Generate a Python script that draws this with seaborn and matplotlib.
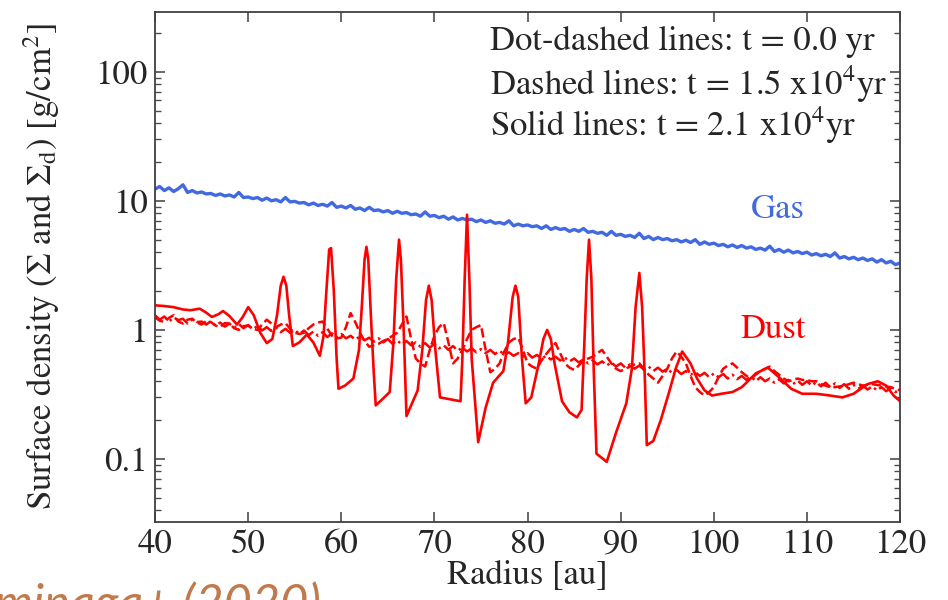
import numpy as np
import pandas as pd
import seaborn as sns
import matplotlib
matplotlib.use("Agg")
import matplotlib.pyplot as plt
from matplotlib.ticker import LogLocator, NullFormatter

# gas surface density, every 0.5 au from 40 to 120
gas_r = np.arange(40, 120.25, 0.5)
gas_sigma = [
    12.3, 12.9, 12.0, 12.6, 11.8, 12.4, 13.3, 11.6, 12.0, 11.5,
    11.7, 11.3, 11.4, 11.0, 11.3, 10.9, 11.1, 10.7, 11.6, 10.6,
    10.7, 10.4, 10.6, 10.1, 10.5, 10.0, 10.2, 9.8, 10.6, 9.8,
    9.9, 9.6, 9.7, 9.3, 9.6, 9.2, 9.4, 9.1, 9.7, 8.9,
    9.1, 8.8, 9.2, 8.6, 8.8, 8.4, 8.9, 8.4, 8.5, 8.2,
    8.4, 8.0, 8.3, 8.0, 8.1, 7.8, 7.9, 7.6, 8.2, 7.6,
    7.7, 7.4, 7.6, 7.2, 7.5, 7.1, 7.3, 7.1, 7.2, 6.9,
    7.1, 6.8, 7.0, 6.7, 6.8, 6.6, 7.0, 6.4, 6.6, 6.4,
    6.5, 6.3, 6.4, 6.1, 6.4, 6.0, 6.2, 6.0, 6.1, 5.8,
    6.0, 5.8, 6.1, 5.7, 5.8, 5.6, 5.7, 5.4, 5.8, 5.4,
    5.5, 5.3, 5.4, 5.2, 5.6, 5.1, 5.3, 5.0, 5.2, 5.0,
    5.1, 4.9, 5.0, 4.8, 4.95, 4.75, 5.0, 4.6, 4.8, 4.6,
    4.7, 4.5, 4.6, 4.4, 4.55, 4.35, 4.5, 4.3, 4.4, 4.2,
    4.3, 4.15, 4.45, 4.05, 4.2, 4.0, 4.15, 3.95, 4.05, 3.9,
    4.0, 3.8, 3.9, 3.75, 3.85, 3.7, 3.95, 3.6, 3.7, 3.55,
    3.65, 3.5, 3.6, 3.45, 3.55, 3.35, 3.5, 3.3, 3.4, 3.2,
    3.3,
]

# dust, every 0.5 au
dust_r = np.arange(40, 120.25, 0.5)
dust_t0 = [
    1.30, 1.20, 1.27, 1.16, 1.25, 1.19, 1.22, 1.12, 1.20, 1.15,
    1.16, 1.10, 1.17, 1.08, 1.14, 1.06, 1.12, 1.04, 1.11, 1.03,
    1.09, 1.01, 1.07, 0.99, 1.05, 0.98, 1.04, 0.96, 1.02, 0.95,
    1.00, 0.93, 0.99, 0.91, 0.97, 0.90, 0.96, 0.88, 0.94, 0.87,
    0.93, 0.86, 0.90, 0.84, 0.89, 0.83, 0.87, 0.81, 0.86, 0.80,
    0.85, 0.78, 0.83, 0.77, 0.82, 0.76, 0.80, 0.74, 0.79, 0.73,
    0.78, 0.72, 0.76, 0.70, 0.75, 0.69, 0.73, 0.68, 0.72, 0.67,
    0.71, 0.66, 0.70, 0.65, 0.69, 0.64, 0.67, 0.63, 0.66, 0.62,
    0.66, 0.61, 0.64, 0.60, 0.63, 0.59, 0.62, 0.58, 0.61, 0.57,
    0.60, 0.56, 0.59, 0.55, 0.58, 0.54, 0.57, 0.53, 0.56, 0.52,
    0.55, 0.51, 0.54, 0.50, 0.53, 0.49, 0.52, 0.48, 0.51, 0.475,
    0.50, 0.465, 0.49, 0.455, 0.48, 0.45, 0.47, 0.44, 0.465, 0.43,
    0.46, 0.43, 0.455, 0.42, 0.45, 0.415, 0.44, 0.41, 0.435, 0.40,
    0.43, 0.40, 0.42, 0.39, 0.415, 0.385, 0.41, 0.38, 0.405, 0.375,
    0.40, 0.37, 0.395, 0.365, 0.39, 0.36, 0.385, 0.355, 0.38, 0.35,
    0.375, 0.35, 0.37, 0.345, 0.365, 0.34, 0.36, 0.335, 0.355, 0.33,
    0.345,
]
dust_t15 = [
    1.25, 1.18, 1.15, 1.24, 1.30, 1.16, 1.12, 1.20, 1.22, 1.14,
    1.10, 1.17, 1.15, 1.08, 1.05, 1.13, 1.12, 1.03, 1.00, 1.07,
    1.08, 1.02, 1.00, 1.10, 1.20, 1.12, 1.05, 1.10, 1.13, 1.02,
    0.95, 0.93, 0.95, 1.03, 1.10, 1.14, 1.16, 1.02, 0.90, 0.86,
    0.87, 1.05, 1.35, 1.15, 0.95, 0.82, 0.74, 0.76, 0.78, 0.82,
    0.85, 0.90, 0.95, 1.10, 1.27, 0.85, 0.60, 0.55, 0.52, 0.70,
    0.90, 1.05, 1.13, 0.80, 0.55, 0.60, 0.70, 0.85, 1.00, 1.05,
    1.09, 0.70, 0.47, 0.50, 0.55, 0.68, 0.80, 0.85, 0.87, 0.70,
    0.55, 0.52, 0.50, 0.58, 0.65, 0.72, 0.79, 0.66, 0.55, 0.51,
    0.49, 0.53, 0.58, 0.60, 0.62, 0.66, 0.70, 0.62, 0.55, 0.50,
    0.48, 0.50, 0.52, 0.54, 0.55, 0.50, 0.45, 0.42, 0.39, 0.44,
    0.50, 0.60, 0.68, 0.62, 0.55, 0.44, 0.36, 0.33, 0.31, 0.33,
    0.36, 0.43, 0.50, 0.53, 0.55, 0.51, 0.47, 0.44, 0.42, 0.45,
    0.48, 0.50, 0.52, 0.48, 0.45, 0.42, 0.40, 0.41, 0.42, 0.41,
    0.41, 0.40, 0.40, 0.38, 0.37, 0.36, 0.36, 0.365, 0.37, 0.38,
    0.39, 0.38, 0.37, 0.375, 0.38, 0.375, 0.37, 0.365, 0.36, 0.35,
    0.34,
]

# dust at t = 2.1e4 yr (rings)
ring_r = [
    40.0, 41.0, 42.0, 43.0, 43.8, 44.8, 45.5, 46.1, 46.8, 47.3,
    48.0, 48.8, 49.4, 50.0, 50.6, 51.3, 52.0, 52.6, 53.1, 53.5,
    53.8, 54.1, 54.4, 54.8, 55.5, 56.3, 57.0, 57.7, 58.1, 58.4,
    58.7, 58.9, 59.2, 59.5, 59.7, 60.4, 61.3, 61.9, 62.2, 62.5,
    62.7, 62.9, 63.2, 63.5, 63.7, 64.4, 65.2, 65.6, 65.9, 66.2,
    66.4, 66.7, 67.0, 67.6, 68.2, 68.7, 69.1, 69.4, 69.7, 70.1,
    70.6, 71.7, 72.8, 73.0, 73.25, 73.5, 73.75, 74.0, 74.7, 75.5,
    76.3, 77.4, 77.9, 78.4, 78.7, 79.0, 79.4, 79.8, 80.4, 81.2,
    81.7, 82.1, 82.5, 82.9, 83.7, 84.5, 85.3, 85.8, 86.1, 86.35,
    86.6, 86.85, 87.1, 87.4, 88.5, 89.5, 90.6, 91.2, 91.6, 92.0,
    92.3, 92.6, 92.8, 93.5, 94.3, 95.2, 95.9, 96.6, 97.5, 98.2,
    99.0, 99.8, 100.8, 102.0, 103.0, 104.5, 105.8, 107.0, 108.3, 109.5,
    111.0, 112.5, 113.8, 115.0, 116.5, 117.6, 118.5, 119.3, 120.0,
]
ring_sigma = [
    1.55, 1.53, 1.50, 1.44, 1.42, 1.46, 1.36, 1.26, 1.32, 1.40,
    1.28, 1.10, 1.25, 1.50, 1.30, 0.95, 0.79, 0.85, 1.30, 2.20,
    2.58, 2.20, 1.30, 0.75, 0.80, 0.92, 0.80, 0.63, 0.90, 2.00,
    4.20, 4.30, 2.00, 0.60, 0.35, 0.37, 0.42, 0.70, 1.50, 3.50,
    4.40, 3.50, 1.20, 0.45, 0.26, 0.29, 0.33, 0.80, 2.50, 5.00,
    3.50, 1.00, 0.215, 0.27, 0.34, 0.70, 1.70, 2.20, 1.70, 0.70,
    0.30, 0.29, 0.28, 0.60, 2.50, 7.80, 2.50, 0.60, 0.135, 0.25,
    0.39, 0.48, 0.80, 1.80, 2.20, 1.80, 0.60, 0.27, 0.30, 0.55,
    0.85, 1.00, 0.85, 0.55, 0.28, 0.23, 0.21, 0.24, 0.80, 2.50,
    5.00, 2.50, 0.50, 0.11, 0.095, 0.16, 0.27, 0.50, 1.50, 2.76,
    1.50, 0.40, 0.128, 0.138, 0.20, 0.33, 0.50, 0.68, 0.55, 0.42,
    0.34, 0.31, 0.32, 0.33, 0.36, 0.46, 0.51, 0.43, 0.35, 0.32,
    0.32, 0.31, 0.30, 0.32, 0.38, 0.40, 0.37, 0.31, 0.28,
]

gas_color = "#4169E1"
dust_color = "#FF0000"

sns.set_style("ticks")
plt.rcParams["font.family"] = ["STIXGeneral", "DejaVu Serif"]
plt.rcParams["mathtext.fontset"] = "stix"

fig = plt.figure(figsize=(9.48, 6), dpi=100)
ax = fig.add_axes([0.1635, 0.13, 0.786, 0.85])

sns.lineplot(x=gas_r, y=gas_sigma, ax=ax, color=gas_color, lw=2.4)
sns.lineplot(x=dust_r, y=dust_t0, ax=ax, color=dust_color, lw=1.8, linestyle="-.")
sns.lineplot(x=dust_r, y=dust_t15, ax=ax, color=dust_color, lw=1.8, linestyle="--")
sns.lineplot(x=ring_r, y=ring_sigma, ax=ax, color=dust_color, lw=1.9)

ax.set_yscale("log")
ax.set_xlim(40, 120)
ax.set_ylim(0.0325, 290)
ax.set_xticks(range(40, 121, 10))
ax.set_yticks([0.1, 1, 10, 100], labels=["0.1", "1", "10", "100"])
ax.yaxis.set_minor_locator(LogLocator(base=10, subs=np.arange(2, 10)))
ax.yaxis.set_minor_formatter(NullFormatter())
ax.tick_params(which="both", direction="in", top=True, right=True,
               labelsize=25, pad=5, color="0.3")
ax.tick_params(which="major", length=7, width=1.2)
ax.tick_params(which="minor", length=4, width=1.0)
for s in ax.spines.values():
    s.set_linewidth(1.3)
    s.set_color("0.25")

ax.set_xlabel("Radius [au]", fontsize=25)
ax.set_ylabel(r"Surface density ($\Sigma$ and $\Sigma_\mathrm{d}$) [g/cm$^2$]", fontsize=25)
ax.xaxis.set_label_coords(0.5, -0.075)
ax.yaxis.set_label_coords(-0.125, 0.5)

ax.text(0.45, 0.941, "Dot-dashed lines: t = 0.0 yr", transform=ax.transAxes,
        fontsize=25, va="center", ha="left")
ax.text(0.45, 0.859, r"Dashed lines: t = 1.5 x10$^4$yr", transform=ax.transAxes,
        fontsize=25, va="center", ha="left")
ax.text(0.45, 0.778, r"Solid lines: t = 2.1 x10$^4$yr", transform=ax.transAxes,
        fontsize=25, va="center", ha="left")
ax.text(106.9, 8.5, "Gas", color=gas_color, fontsize=25, ha="center", va="center")
ax.text(106.4, 1.0, "Dust", color=dust_color, fontsize=25, ha="center", va="center")

# credit line, cut by the bottom edge as in the source slide
fig.text(0.338, -0.032, "Tominaga+ (2020)", color="#C07A4C", fontsize=35,
         style="italic", weight="normal", family=["Lato", "DejaVu Sans"],
         ha="right", va="baseline")

fig.savefig("out.png", dpi=100)
